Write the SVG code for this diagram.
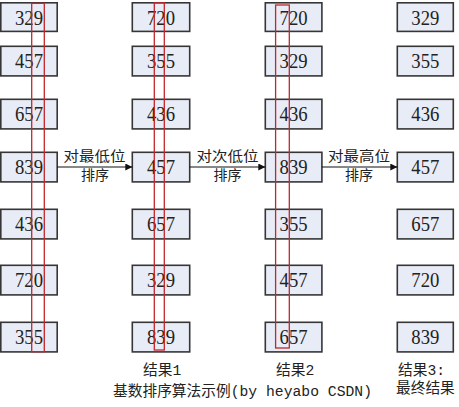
<svg xmlns="http://www.w3.org/2000/svg" width="459" height="407" viewBox="0 0 459 407">
<defs>
<style>
.box rect{fill:#e8ecf6;stroke:#363636;stroke-width:1.6}
.box text{font-size:20px;fill:#222;text-anchor:middle}
.hl{fill:none;stroke:#c3262c;stroke-width:1.3}
.edge{stroke:#111;stroke-width:1.2;fill:none}
.lbl{font-size:14.7px;fill:#222}
.albl{font-size:14px;fill:#222;text-anchor:middle}
</style>
<marker id="ah" viewBox="0 0 10 10" refX="10" refY="5" markerWidth="8" markerHeight="7" markerUnits="userSpaceOnUse" orient="auto">
<path d="M0,0 L10,5 L0,10 Z" fill="#111"/>
</marker>
</defs>
<rect width="459" height="407" fill="#fff"/>

<g font-family="'Liberation Serif','Times New Roman','DejaVu Serif',serif">
<g id="col1">
<g id="c1r1" class="box"><rect x="0.8" y="2.8" width="56.4" height="28.6"/><text x="29" y="24.5" textLength="28" lengthAdjust="spacingAndGlyphs">329</text></g>
<g id="c1r2" class="box"><rect x="0.8" y="46.3" width="56.4" height="29.6"/><text x="29" y="68" textLength="28" lengthAdjust="spacingAndGlyphs">457</text></g>
<g id="c1r3" class="box"><rect x="0.8" y="99.3" width="56.4" height="29.6"/><text x="29" y="121" textLength="28" lengthAdjust="spacingAndGlyphs">657</text></g>
<g id="c1r4" class="box"><rect x="0.8" y="152.3" width="56.4" height="29.6"/><text x="29" y="174" textLength="28" lengthAdjust="spacingAndGlyphs">839</text></g>
<g id="c1r5" class="box"><rect x="0.8" y="209.3" width="56.4" height="29.6"/><text x="29" y="231" textLength="28" lengthAdjust="spacingAndGlyphs">436</text></g>
<g id="c1r6" class="box"><rect x="0.8" y="265.3" width="56.4" height="29.6"/><text x="29" y="287" textLength="28" lengthAdjust="spacingAndGlyphs">720</text></g>
<g id="c1r7" class="box"><rect x="0.8" y="322.3" width="56.4" height="29.6"/><text x="29" y="344" textLength="28" lengthAdjust="spacingAndGlyphs">355</text></g>
</g>

<g id="col2">
<g id="c2r1" class="box"><rect x="132.3" y="2.8" width="57.4" height="28.6"/><text x="161" y="24.5" textLength="28" lengthAdjust="spacingAndGlyphs">720</text></g>
<g id="c2r2" class="box"><rect x="132.3" y="46.3" width="57.4" height="29.6"/><text x="161" y="68" textLength="28" lengthAdjust="spacingAndGlyphs">355</text></g>
<g id="c2r3" class="box"><rect x="132.3" y="99.3" width="57.4" height="29.6"/><text x="161" y="121" textLength="28" lengthAdjust="spacingAndGlyphs">436</text></g>
<g id="c2r4" class="box"><rect x="132.3" y="152.3" width="57.4" height="29.6"/><text x="161" y="174" textLength="28" lengthAdjust="spacingAndGlyphs">457</text></g>
<g id="c2r5" class="box"><rect x="132.3" y="209.3" width="57.4" height="29.6"/><text x="161" y="231" textLength="28" lengthAdjust="spacingAndGlyphs">657</text></g>
<g id="c2r6" class="box"><rect x="132.3" y="265.3" width="57.4" height="29.6"/><text x="161" y="287" textLength="28" lengthAdjust="spacingAndGlyphs">329</text></g>
<g id="c2r7" class="box"><rect x="132.3" y="322.3" width="57.4" height="29.6"/><text x="161" y="344" textLength="28" lengthAdjust="spacingAndGlyphs">839</text></g>
</g>

<g id="col3">
<g id="c3r1" class="box"><rect x="265.3" y="2.8" width="56.6" height="28.6"/><text x="293.6" y="24.5" textLength="28" lengthAdjust="spacingAndGlyphs">720</text></g>
<g id="c3r2" class="box"><rect x="265.3" y="46.3" width="56.6" height="29.6"/><text x="293.6" y="68" textLength="28" lengthAdjust="spacingAndGlyphs">329</text></g>
<g id="c3r3" class="box"><rect x="265.3" y="99.3" width="56.6" height="29.6"/><text x="293.6" y="121" textLength="28" lengthAdjust="spacingAndGlyphs">436</text></g>
<g id="c3r4" class="box"><rect x="265.3" y="152.3" width="56.6" height="29.6"/><text x="293.6" y="174" textLength="28" lengthAdjust="spacingAndGlyphs">839</text></g>
<g id="c3r5" class="box"><rect x="265.3" y="209.3" width="56.6" height="29.6"/><text x="293.6" y="231" textLength="28" lengthAdjust="spacingAndGlyphs">355</text></g>
<g id="c3r6" class="box"><rect x="265.3" y="265.3" width="56.6" height="29.6"/><text x="293.6" y="287" textLength="28" lengthAdjust="spacingAndGlyphs">457</text></g>
<g id="c3r7" class="box"><rect x="265.3" y="322.3" width="56.6" height="29.6"/><text x="293.6" y="344" textLength="28" lengthAdjust="spacingAndGlyphs">657</text></g>
</g>

<g id="col4">
<g id="c4r1" class="box"><rect x="397.3" y="2.8" width="56" height="28.6"/><text x="425.3" y="24.5" textLength="28" lengthAdjust="spacingAndGlyphs">329</text></g>
<g id="c4r2" class="box"><rect x="397.3" y="46.3" width="56" height="29.6"/><text x="425.3" y="68" textLength="28" lengthAdjust="spacingAndGlyphs">355</text></g>
<g id="c4r3" class="box"><rect x="397.3" y="99.3" width="56" height="29.6"/><text x="425.3" y="121" textLength="28" lengthAdjust="spacingAndGlyphs">436</text></g>
<g id="c4r4" class="box"><rect x="397.3" y="152.3" width="56" height="29.6"/><text x="425.3" y="174" textLength="28" lengthAdjust="spacingAndGlyphs">457</text></g>
<g id="c4r5" class="box"><rect x="397.3" y="209.3" width="56" height="29.6"/><text x="425.3" y="231" textLength="28" lengthAdjust="spacingAndGlyphs">657</text></g>
<g id="c4r6" class="box"><rect x="397.3" y="265.3" width="56" height="29.6"/><text x="425.3" y="287" textLength="28" lengthAdjust="spacingAndGlyphs">720</text></g>
<g id="c4r7" class="box"><rect x="397.3" y="322.3" width="56" height="29.6"/><text x="425.3" y="344" textLength="28" lengthAdjust="spacingAndGlyphs">839</text></g>
</g>
</g>

<g id="highlights">
<rect class="hl" x="31.7" y="3.3" width="12.6" height="348.4"/>
<rect class="hl" x="154.3" y="2.8" width="10" height="347.2"/>
<rect class="hl" x="275.6" y="5" width="13.7" height="343"/>
</g>

<g id="connectors">
<line class="edge" x1="57.2" y1="167" x2="132.3" y2="167" marker-end="url(#ah)"/>
<line class="edge" x1="189.7" y1="167" x2="265.3" y2="167" marker-end="url(#ah)"/>
<line class="edge" x1="321.9" y1="167" x2="397.3" y2="167" marker-end="url(#ah)"/>
<g font-family="'Noto Sans CJK SC',sans-serif">
<text class="albl" x="94.5" y="160.5" textLength="62" lengthAdjust="spacingAndGlyphs">对最低位</text>
<text class="albl" x="95" y="180" textLength="28" lengthAdjust="spacingAndGlyphs">排序</text>
<text class="albl" x="227.5" y="160.5" textLength="62" lengthAdjust="spacingAndGlyphs">对次低位</text>
<text class="albl" x="227.5" y="180" textLength="28" lengthAdjust="spacingAndGlyphs">排序</text>
<text class="albl" x="359" y="160.5" textLength="62" lengthAdjust="spacingAndGlyphs">对最高位</text>
<text class="albl" x="359" y="180" textLength="28" lengthAdjust="spacingAndGlyphs">排序</text>
</g>
</g>

<g id="labels" font-family="'Liberation Mono','Noto Sans CJK SC',monospace">
<text class="lbl" x="143" y="375">结果1</text>
<text class="lbl" x="276" y="375">结果2</text>
<text class="lbl" x="398" y="375">结果3:</text>
<text class="lbl" x="396" y="393">最终结果</text>
<text class="lbl" x="113" y="396" textLength="259" lengthAdjust="spacing">基数排序算法示例(by heyabo CSDN)</text>
</g>
</svg>
